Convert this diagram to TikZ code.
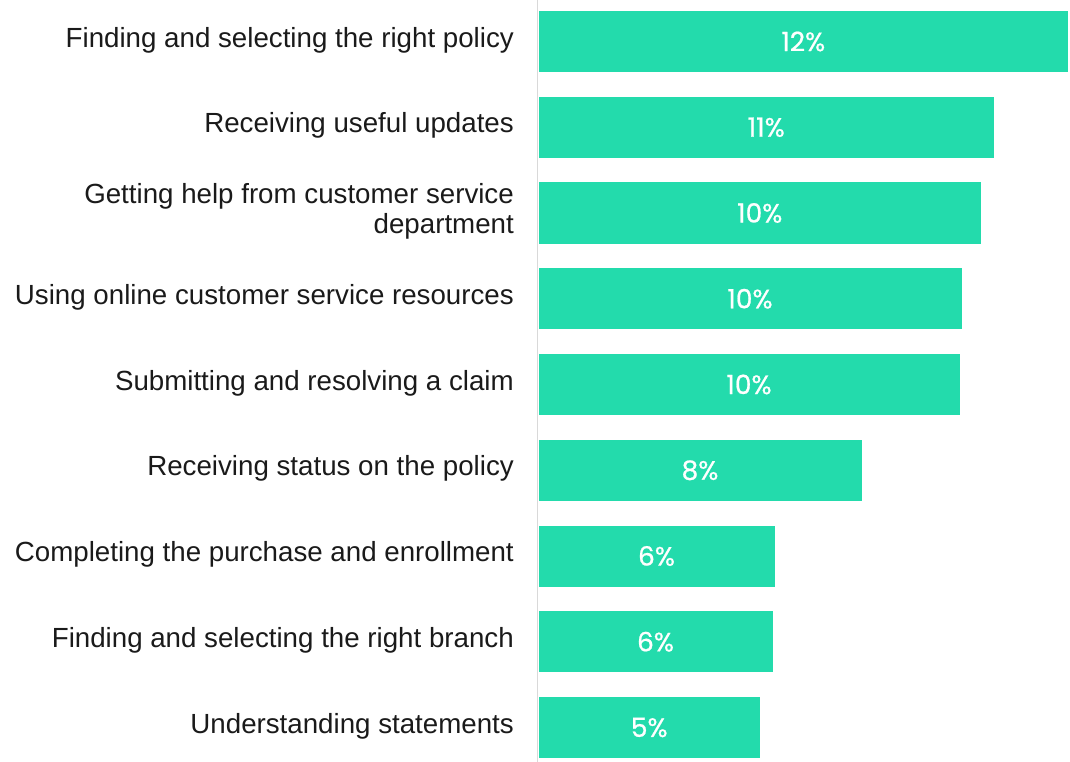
\documentclass[tikz,border=0pt]{standalone}
\usepackage{fontspec}
\setmainfont{Liberation Sans}
\newfontfamily\pctfont[FakeBold=0.7]{Poppins}
\definecolor{barcol}{RGB}{35,219,172}
\definecolor{txtcol}{RGB}{26,26,26}
\definecolor{axcol}{RGB}{217,217,217}
\begin{document}
\begin{tikzpicture}[x=1pt,y=-1pt,
  barbox/.style={fill=barcol,draw=none},
  catlabel/.style={anchor=east,inner sep=0pt,text=txtcol,font=\fontsize{27.7}{30}\selectfont,align=right},
  pctlabel/.style={inner sep=0pt,text=white,font=\pctfont\fontsize{26.5}{30}\selectfont}]
\useasboundingbox (0,0) rectangle (1070,762);
\draw[axcol,line width=1.5pt] (537.7,0) -- (537.7,762);
\foreach \i/\r/\p/\t in {
  0/1068/12\%/Finding and selecting the right policy,
  1/994/11\%/Receiving useful updates,
  2/981/10\%/{Getting help from customer service\\department},
  3/961.5/10\%/Using online customer service resources,
  4/959.5/10\%/Submitting and resolving a claim,
  5/861.5/8\%/Receiving status on the policy,
  6/774.5/6\%/Completing the purchase and enrollment,
  7/772.5/6\%/Finding and selecting the right branch,
  8/760/5\%/Understanding statements}{
  \pgfmathsetmacro{\top}{11+85.75*\i}
  \pgfmathsetmacro{\bot}{\top+61}
  \pgfmathsetmacro{\mid}{\top+30.5}
  \path[barbox] (538.5,\top) rectangle (\r,\bot);
  \node[pctlabel] (p\i) at ({(538.5+\r)/2},\mid) {\p};
  \node[catlabel] (c\i) at (514,\mid-1.5) {\t};
}
\end{tikzpicture}
\end{document}
